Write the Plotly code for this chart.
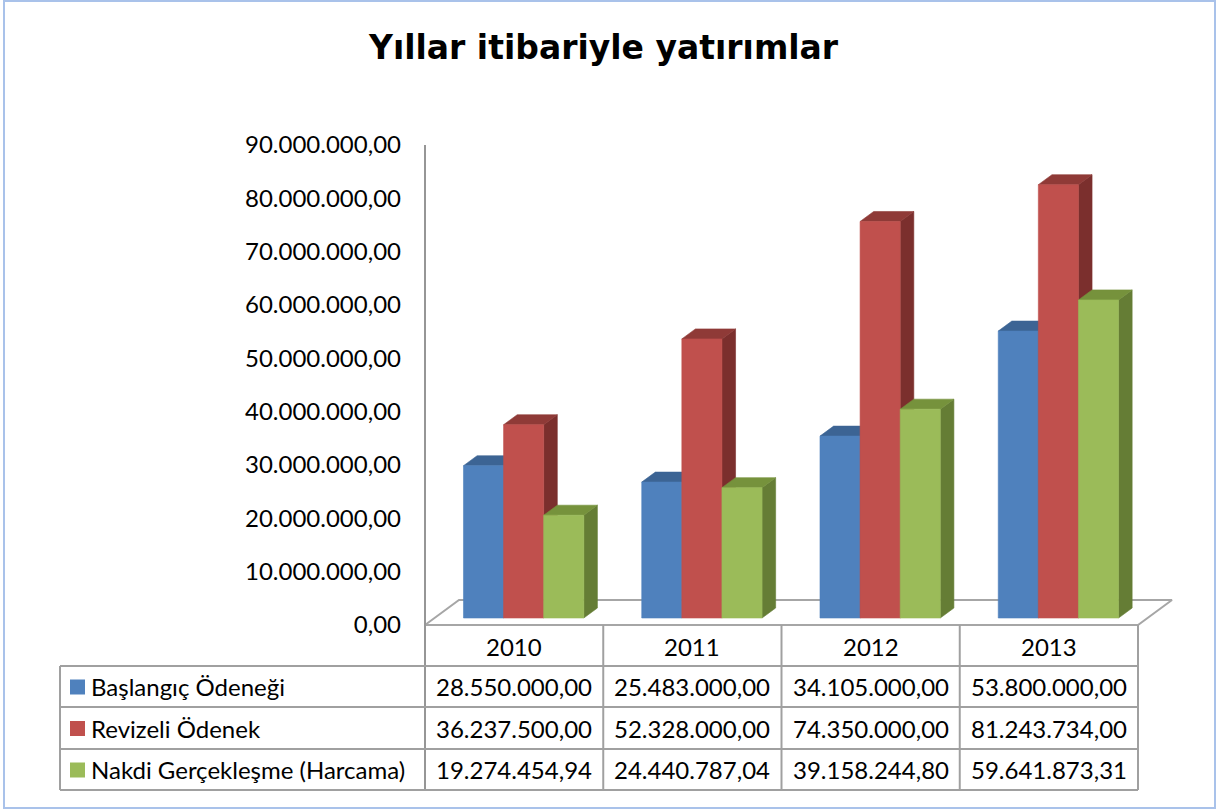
import plotly.graph_objects as go

# ---- data -------------------------------------------------------------
years = ["2010", "2011", "2012", "2013"]
series_names = ["Başlangıç Ödeneği", "Revizeli Ödenek", "Nakdi Gerçekleşme (Harcama)"]
baslangic = [28550000.00, 25483000.00, 34105000.00, 53800000.00]
revizeli = [36237500.00, 52328000.00, 74350000.00, 81243734.00]
nakdi = [19274454.94, 24440787.04, 39158244.80, 59641873.31]
y_ticks = [0, 10e6, 20e6, 30e6, 40e6, 50e6, 60e6, 70e6, 80e6, 90e6]

series_values = [baslangic, revizeli, nakdi]
front_colors = ["#4F81BD", "#C0504D", "#9BBB59"]
top_colors = ["#3C6494", "#8F3A37", "#76923C"]
side_colors = ["#35577F", "#7B2F2D", "#657D35"]


def tr_num(v):
    """Turkish number format: 28.550.000,00"""
    s = f"{v:,.2f}"
    return s.replace(",", "X").replace(".", ",").replace("X", ".")


# ---- page geometry (pixels) -------------------------------------------
W, H = 1219, 810
X0 = 425.0            # front-left corner of the floor
CELL = 178.25         # width of one category on the front edge
Y0 = 625.0            # value 0 on the front plane
PPU = 480.0 / 90e6    # pixels per value unit
DEPTH_DX_PX, DEPTH_DY_PX = 34.0, 25.0

# axes: x in category units, y in value units, linear to page pixels
x_range = [-X0 / CELL, (W - X0) / CELL]
y_range = [-(H - Y0) / PPU, Y0 / PPU]
DX = DEPTH_DX_PX / CELL
DY = DEPTH_DY_PX / PPU

BAR_W = 0.225
D_FRONT, D_BACK = 0.28, 0.68


def proj(x, v, d):
    return x + d * DX, v + d * DY


def poly(points):
    xs, ys = zip(*[proj(*p) for p in points])
    return list(xs) + [xs[0]], list(ys) + [ys[0]]


fig = go.Figure()

# floor
n = len(years)
fx, fy = poly([(0, 0, 0), (n, 0, 0), (n, 0, 1), (0, 0, 1)])
fig.add_trace(go.Scatter(x=fx, y=fy, mode="lines",
                         line=dict(color="#A6A6A6", width=2),
                         hoverinfo="skip", showlegend=False))

# 3-D columns: side, top, then front face of each bar, left to right
gap = (1 - 3 * BAR_W) / 2
for i in range(n):
    for k, vals in enumerate(series_values):
        v = vals[i]
        x0 = i + gap + k * BAR_W
        x1 = x0 + BAR_W
        faces = [
            ([(x1, 0, D_FRONT), (x1, 0, D_BACK), (x1, v, D_BACK), (x1, v, D_FRONT)], side_colors[k]),
            ([(x0, v, D_FRONT), (x1, v, D_FRONT), (x1, v, D_BACK), (x0, v, D_BACK)], top_colors[k]),
            ([(x0, 0, D_FRONT), (x1, 0, D_FRONT), (x1, v, D_FRONT), (x0, v, D_FRONT)], front_colors[k]),
        ]
        for pts, col in faces:
            px_, py_ = poly(pts)
            fig.add_trace(go.Scatter(
                x=px_, y=py_, mode="lines", fill="toself", fillcolor=col,
                line=dict(color=col, width=0.6),
                name=series_names[k], hoverinfo="skip", showlegend=False))


# ---- helpers for page-pixel positioned shapes and text -----------------
def pxx(x):
    return x / W


def pxy(y):
    return 1 - y / H


shapes = []
annotations = []
GRID = "#A0A0A0"


def hline(y, xa, xb, color=GRID, width=2):
    shapes.append(dict(type="line", xref="paper", yref="paper",
                       x0=pxx(xa), x1=pxx(xb), y0=pxy(y), y1=pxy(y),
                       line=dict(color=color, width=width)))


def vline(x, ya, yb, color=GRID, width=2):
    shapes.append(dict(type="line", xref="paper", yref="paper",
                       x0=pxx(x), x1=pxx(x), y0=pxy(ya), y1=pxy(yb),
                       line=dict(color=color, width=width)))


FONT = "Lato"
FSIZE = 24

# value axis line (continues down as the table's first column line)
vline(X0, 145, 790, color="#969696")

# data table
TBL_L, TBL_R = 60, X0 + n * CELL
row_lines = [666, 707, 749, 790]
for y in row_lines:
    hline(y, TBL_L, TBL_R)
vline(TBL_L, row_lines[0], row_lines[-1])
for i in range(1, n + 1):
    vline(X0 + i * CELL, Y0, row_lines[-1])

header_mid = (Y0 + row_lines[0]) / 2 + 1
for i, yr in enumerate(years):
    annotations.append(dict(xref="paper", yref="paper", x=pxx(X0 + (i + 0.5) * CELL),
                            y=pxy(header_mid), text=yr, showarrow=False,
                            xanchor="center", yanchor="middle",
                            font=dict(family=FONT, size=FSIZE, color="black")))

for k, name in enumerate(series_names):
    top, bot = row_lines[k], row_lines[k + 1]
    mid = (top + bot) / 2
    shapes.append(dict(type="rect", xref="paper", yref="paper",
                       x0=pxx(70), x1=pxx(85), y0=pxy(mid - 7), y1=pxy(mid + 8),
                       fillcolor=front_colors[k], line=dict(width=0)))
    annotations.append(dict(xref="paper", yref="paper", x=pxx(89), y=pxy(mid),
                            text=name, showarrow=False, xanchor="left", yanchor="middle",
                            font=dict(family=FONT, size=FSIZE, color="black")))
    for i in range(n):
        annotations.append(dict(xref="paper", yref="paper", x=pxx(X0 + (i + 0.5) * CELL),
                                y=pxy(mid), text=tr_num(series_values[k][i]), showarrow=False,
                                xanchor="center", yanchor="middle",
                                font=dict(family=FONT, size=FSIZE, color="black")))

# title
annotations.append(dict(xref="paper", yref="paper", x=pxx(603), y=pxy(48),
                        text="<b>Yıllar itibariyle yatırımlar</b>", showarrow=False,
                        xanchor="center", yanchor="middle",
                        font=dict(family="DejaVu Sans", size=33, color="black")))

# chart-area border
shapes.append(dict(type="rect", xref="paper", yref="paper",
                   x0=pxx(4), x1=pxx(1215), y0=pxy(808), y1=pxy(1),
                   line=dict(color="#A9C2EA", width=2), fillcolor="rgba(0,0,0,0)"))

fig.update_layout(
    width=W, height=H,
    margin=dict(l=0, r=0, t=0, b=0, pad=0),
    paper_bgcolor="white", plot_bgcolor="white",
    showlegend=False,
    xaxis=dict(range=x_range, visible=False, fixedrange=True),
    yaxis=dict(range=y_range, anchor="free", position=X0 / W,
               tickvals=y_ticks, ticktext=[tr_num(v) for v in y_ticks],
               showline=False, showgrid=False, zeroline=False, ticks="",
               ticklabelstandoff=24,
               tickfont=dict(family=FONT, size=FSIZE, color="black"), fixedrange=True),
    shapes=shapes,
    annotations=annotations,
)

fig.write_html("out.html")
